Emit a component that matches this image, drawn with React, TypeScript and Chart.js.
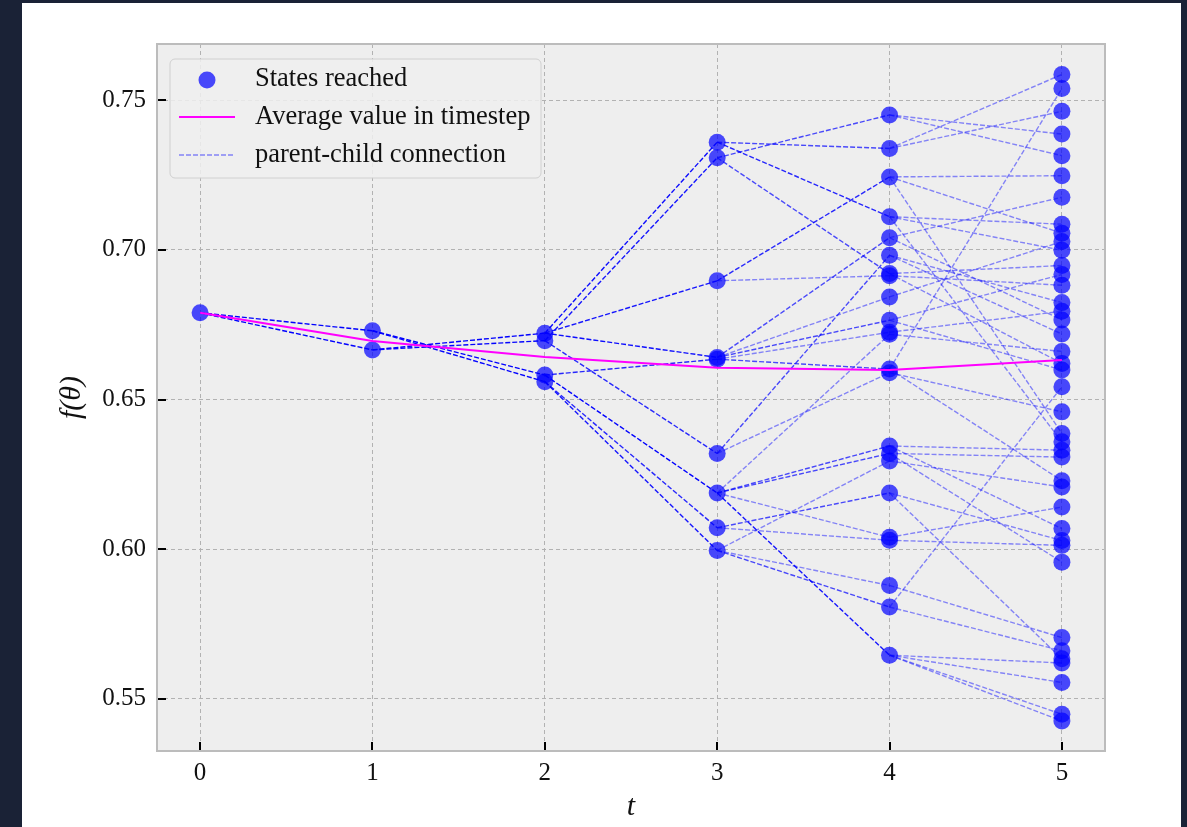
import React, { useEffect, useRef } from "react";
import { Chart, registerables } from "chart.js";

Chart.register(...registerables);

// ---------------- data ----------------
const timesteps = [0, 1, 2, 3, 4, 5];
const yTickValues = [0.55, 0.6, 0.65, 0.7, 0.75];
const averageValues = [0.679, 0.6696, 0.6642, 0.6606, 0.6599, 0.6632];

// states reached per timestep, and the index of each state's parent in the previous timestep
const t0States = [0.679];
const t1States = [0.673, 0.6666];
const t1Parents = [0, 0];
const t2States = [0.6722, 0.6697, 0.6582, 0.656];
const t2Parents = [1, 1, 0, 0];
const t3States = [0.736, 0.7308, 0.6897, 0.6641, 0.6635, 0.632, 0.6188, 0.6072, 0.5996];
const t3Parents = [0, 1, 0, 0, 2, 1, 2, 3, 3];
const t4States = [
  0.7451, 0.7339, 0.7244, 0.7111, 0.7041, 0.6982, 0.6921, 0.6914, 0.6843, 0.6765, 0.6725, 0.6718,
  0.6602, 0.659, 0.6345, 0.632, 0.6295, 0.6188, 0.604, 0.603, 0.5879, 0.5807, 0.5646,
];
const t4Parents = [1, 0, 2, 0, 3, 5, 1, 2, 3, 3, 4, 6, 4, 5, 6, 6, 8, 7, 6, 7, 8, 8, 6];
const t5States = [
  0.7586, 0.7539, 0.7463, 0.7387, 0.7315, 0.7248, 0.7176, 0.7086, 0.7056, 0.7028, 0.6999, 0.6948,
  0.6918, 0.6882, 0.6824, 0.6795, 0.6766, 0.6719, 0.6661, 0.6621, 0.6599, 0.6543, 0.6459, 0.6387,
  0.6359, 0.6331, 0.6308, 0.6229, 0.6208, 0.6141, 0.6069, 0.6029, 0.6013, 0.5957, 0.5705, 0.5661,
  0.5634, 0.562, 0.5555, 0.5449, 0.5426,
];
const t5Parents = [
  1, 12, 1, 0, 0, 2, 4, 3, 2, 8, 3, 6, 9, 7, 5, 10, 4, 5, 11, 6, 9, 21, 13, 2, 3, 14, 15, 12, 16, 18,
  14, 17, 19, 15, 20, 21, 17, 22, 22, 22, 22,
];

const legendLabels = ["States reached", "Average value in timestep", "parent-child connection"];

// ---------------- styles ----------------
const SERIF = "'Liberation Serif', 'DejaVu Serif', serif";
const POINT_COLOR = "rgba(0,0,255,0.7)";
const EDGE_ALPHA = 0.45;

const levels = [t0States, t1States, t2States, t3States, t4States, t5States];
const parents = [[], t1Parents, t2Parents, t3Parents, t4Parents, t5Parents];

function leafCounts(): number[][] {
  const counts = levels.map((l) => l.map(() => 0));
  counts[5] = t5States.map(() => 1);
  for (let t = 5; t >= 1; t--) {
    parents[t].forEach((p, i) => {
      counts[t - 1][p] += counts[t][i];
    });
  }
  return counts;
}

const framePlugin = {
  id: "framePlugin",
  beforeDraw(chart: any) {
    const { ctx, chartArea: a } = chart;
    ctx.save();
    ctx.fillStyle = "#eeeeee";
    ctx.fillRect(a.left, a.top, a.right - a.left, a.bottom - a.top);
    ctx.restore();
  },
  afterDraw(chart: any) {
    const { ctx, chartArea: a, scales } = chart;
    ctx.save();
    // frame
    ctx.strokeStyle = "#bcbcbc";
    ctx.lineWidth = 2;
    ctx.strokeRect(a.left, a.top, a.right - a.left, a.bottom - a.top);
    // inward ticks
    ctx.strokeStyle = "#000";
    ctx.lineWidth = 2;
    timesteps.forEach((t) => {
      const x = Math.round(scales.x.getPixelForValue(t));
      ctx.beginPath();
      ctx.moveTo(x, a.bottom - 1);
      ctx.lineTo(x, a.bottom - 9);
      ctx.stroke();
    });
    yTickValues.forEach((v) => {
      const y = Math.round(scales.y.getPixelForValue(v));
      ctx.beginPath();
      ctx.moveTo(a.left + 1, y);
      ctx.lineTo(a.left + 9, y);
      ctx.stroke();
    });
    // legend
    const lx = a.left + 13;
    const ly = a.top + 15;
    const lw = 371;
    const lh = 119;
    const r = 5;
    ctx.beginPath();
    ctx.moveTo(lx + r, ly);
    ctx.lineTo(lx + lw - r, ly);
    ctx.arcTo(lx + lw, ly, lx + lw, ly + r, r);
    ctx.lineTo(lx + lw, ly + lh - r);
    ctx.arcTo(lx + lw, ly + lh, lx + lw - r, ly + lh, r);
    ctx.lineTo(lx + r, ly + lh);
    ctx.arcTo(lx, ly + lh, lx, ly + lh - r, r);
    ctx.lineTo(lx, ly + r);
    ctx.arcTo(lx, ly, lx + r, ly, r);
    ctx.closePath();
    ctx.fillStyle = "rgba(238,238,238,0.85)";
    ctx.fill();
    ctx.strokeStyle = "#d0d0d0";
    ctx.lineWidth = 1;
    ctx.stroke();

    const rows = [ly + 20, ly + 58, ly + 96];
    // marker
    ctx.fillStyle = POINT_COLOR;
    ctx.beginPath();
    ctx.arc(lx + 37, rows[0] + 1, 8.5, 0, Math.PI * 2);
    ctx.fill();
    // magenta line
    ctx.strokeStyle = "#ff00ff";
    ctx.lineWidth = 2;
    ctx.beginPath();
    ctx.moveTo(lx + 9, rows[1]);
    ctx.lineTo(lx + 65, rows[1]);
    ctx.stroke();
    // dashed line
    ctx.strokeStyle = `rgba(0,0,255,${EDGE_ALPHA})`;
    ctx.lineWidth = 1.4;
    ctx.setLineDash([5, 2]);
    ctx.beginPath();
    ctx.moveTo(lx + 9, rows[2]);
    ctx.lineTo(lx + 65, rows[2]);
    ctx.stroke();
    ctx.setLineDash([]);
    // texts
    ctx.fillStyle = "#111";
    ctx.font = `26.5px ${SERIF}`;
    ctx.textBaseline = "middle";
    ctx.textAlign = "left";
    legendLabels.forEach((txt, i) => ctx.fillText(txt, lx + 85, rows[i]));
    ctx.restore();
  },
};

export default function App() {
  const canvasRef = useRef<HTMLCanvasElement | null>(null);

  useEffect(() => {
    const canvas = canvasRef.current;
    if (!canvas) return;
    const counts = leafCounts();

    const edgeDatasets: any[] = [];
    for (let t = 1; t <= 5; t++) {
      levels[t].forEach((v, i) => {
        const p = parents[t][i];
        const n = counts[t][i];
        const alpha = 1 - Math.pow(1 - EDGE_ALPHA, n);
        edgeDatasets.push({
          type: "line",
          label: "parent-child connection",
          data: [
            { x: timesteps[t - 1], y: levels[t - 1][p] },
            { x: timesteps[t], y: v },
          ],
          borderColor: `rgba(0,0,255,${alpha.toFixed(3)})`,
          borderWidth: 1.4,
          borderDash: [5, 2],
          pointRadius: 0,
          fill: false,
          tension: 0,
          order: 3,
        });
      });
    }

    const pointData: { x: number; y: number }[] = [];
    levels.forEach((l, t) => l.forEach((v) => pointData.push({ x: timesteps[t], y: v })));

    const chart = new Chart(canvas, {
      type: "line",
      data: {
        datasets: [
          {
            type: "line",
            label: "Average value in timestep",
            data: timesteps.map((t, i) => ({ x: t, y: averageValues[i] })),
            borderColor: "#ff00ff",
            borderWidth: 2,
            pointRadius: 0,
            fill: false,
            tension: 0,
            order: 1,
          },
          {
            type: "line",
            label: "States reached",
            data: pointData,
            showLine: false,
            pointRadius: 8.5,
            pointBackgroundColor: POINT_COLOR,
            pointBorderWidth: 0,
            borderColor: POINT_COLOR,
            order: 2,
          },
          ...edgeDatasets,
        ],
      },
      options: {
        animation: false,
        responsive: false,
        maintainAspectRatio: false,
        devicePixelRatio: 1,
        layout: { padding: { left: 0, top: 44, right: 82, bottom: 0 } },
        plugins: {
          legend: { display: false },
          tooltip: { enabled: false },
          title: { display: false },
        },
        scales: {
          x: {
            type: "linear",
            min: -0.25,
            max: 5.25,
            afterBuildTicks: (s: any) => {
              s.ticks = timesteps.map((v) => ({ value: v }));
            },
            afterFit: (s: any) => {
              s.height = 76;
            },
            ticks: {
              font: { family: SERIF, size: 25 },
              color: "#111",
              padding: 7,
              callback: (v: any) => String(v),
            },
            grid: { color: "#b2b2b2", lineWidth: 1, drawTicks: false },
            border: { display: false, dash: [4, 3] },
            title: {
              display: true,
              text: "t",
              font: { family: SERIF, size: 30, style: "italic" },
              color: "#111",
              padding: { top: 0, bottom: 2 },
            },
          },
          y: {
            type: "linear",
            min: 0.5326,
            max: 0.7688,
            afterBuildTicks: (s: any) => {
              s.ticks = yTickValues.map((v) => ({ value: v }));
            },
            afterFit: (s: any) => {
              s.width = 157;
            },
            ticks: {
              font: { family: SERIF, size: 25 },
              color: "#111",
              padding: 11,
              callback: (v: any) => Number(v).toFixed(2),
            },
            grid: { color: "#b2b2b2", lineWidth: 1, drawTicks: false },
            border: { display: false, dash: [4, 3] },
            title: {
              display: true,
              text: "f(θ)",
              font: { family: SERIF, size: 30, style: "italic" },
              color: "#111",
              padding: { top: 54, bottom: 0 },
            },
          },
        },
      },
      plugins: [framePlugin],
    } as any);

    return () => chart.destroy();
  }, []);

  return (
    <div style={{ position: "fixed", left: 0, top: 0, width: 1187, height: 827, background: "#1a2236", overflow: "hidden" }}>
      <div style={{ position: "absolute", left: 22, top: 3, width: 1159, height: 824, background: "#ffffff" }} />
      <canvas
        ref={canvasRef}
        width={1187}
        height={827}
        style={{ position: "absolute", left: 0, top: 0, width: 1187, height: 827 }}
      />
    </div>
  );
}
